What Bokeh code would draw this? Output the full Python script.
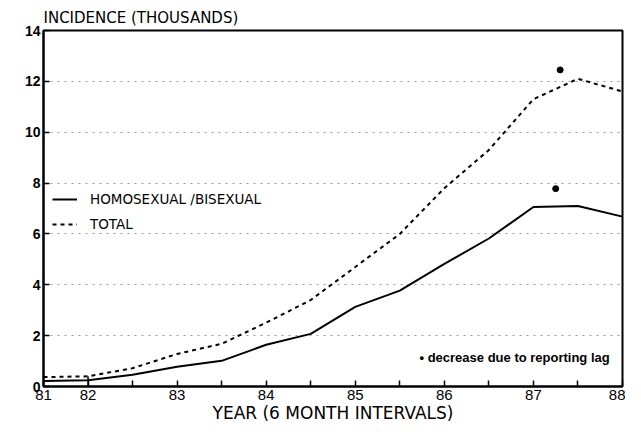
from bokeh.plotting import figure
from bokeh.models import FixedTicker, Legend, LegendItem, Label, Range1d
from bokeh.embed import file_html
from bokeh.resources import INLINE

# ---- data ----
period = ["81", "82", "82.5", "83", "83.5", "84", "84.5", "85", "85.5",
          "86", "86.5", "87", "87.5", "88"]
homo = [0.22, 0.25, 0.46, 0.78, 1.01, 1.64, 2.07, 3.13, 3.77, 4.82, 5.82, 7.06, 7.10, 6.68]
total = [0.37, 0.40, 0.72, 1.28, 1.68, 2.51, 3.40, 4.70, 6.00, 7.80, 9.30, 11.30, 12.10, 11.60]
lag_x = [11.6, 11.5]
lag_y = [12.45, 7.78]
y_ticks = [0, 2, 4, 6, 8, 10, 12, 14]

x = list(range(len(period)))
FONT = "Liberation Sans"
WIDE = "DejaVu Sans"

p = figure(width=625, height=425, output_backend="svg", toolbar_location=None,
           x_range=Range1d(0, len(period) - 1), y_range=Range1d(0, 14),
           min_border_left=43, min_border_right=3, min_border_top=30,
           min_border_bottom=38, title="INCIDENCE (THOUSANDS)")

p.title.text_font = WIDE
p.title.text_font_size = "15px"
p.title.text_font_style = "normal"
p.title.text_color = "black"
p.title.standoff = 8
p.title.offset = 0

p.outline_line_color = "black"
p.outline_line_width = 2
p.background_fill_color = "white"
p.border_fill_color = "white"

# axes
p.xaxis.ticker = FixedTicker(ticks=x)
p.xaxis.major_label_overrides = {i: (lab if "." not in lab else "") for i, lab in zip(x, period)}
p.yaxis.ticker = FixedTicker(ticks=y_ticks)
for ax in (p.xaxis, p.yaxis):
    ax.axis_line_color = "black"
    ax.axis_line_width = 2
    ax.major_tick_in = 6
    ax.major_tick_out = 0
    ax.major_tick_line_width = 1.5
    ax.minor_tick_line_color = None
    ax.major_label_text_font = FONT
    ax.major_label_text_color = "black"
p.xaxis.major_label_text_font_size = "15px"
p.yaxis.major_label_text_font_size = "14px"
p.yaxis.major_label_text_font_style = "bold"
p.yaxis.major_label_standoff = 3
p.xaxis.major_label_standoff = 3
p.xaxis.axis_label = "YEAR (6 MONTH INTERVALS)"
p.xaxis.axis_label_text_font = WIDE
p.xaxis.axis_label_text_font_size = "17px"
p.xaxis.axis_label_text_font_style = "normal"
p.xaxis.axis_label_text_color = "black"
p.xaxis.axis_label_standoff = 0

p.xgrid.visible = False
p.ygrid.ticker = FixedTicker(ticks=y_ticks[1:-1])
p.ygrid.grid_line_color = "#999999"
p.ygrid.grid_line_dash = "2 5"
p.ygrid.grid_line_width = 1

# data lines
r_h = p.line(x, homo, line_color="black", line_width=2)
r_t = p.line(x, total, line_color="black", line_width=2, line_dash="4 4")
# right edge of the 1981 box
p.segment(x0=[x[1]], y0=[0], x1=[x[1]], y1=[total[1]], line_color="black", line_width=1.5)
# reporting-lag markers
p.scatter(lag_x, lag_y, size=6, color="black")

legend = Legend(items=[LegendItem(label="HOMOSEXUAL /BISEXUAL", renderers=[r_h]),
                       LegendItem(label="TOTAL", renderers=[r_t])],
                location=(9, 152), border_line_color=None, background_fill_alpha=0,
                glyph_width=25, label_standoff=13, spacing=5, padding=5,
                label_text_font=WIDE, label_text_font_size="13.5px",
                label_text_color="black")
p.add_layout(legend)

# footnote
p.add_layout(Label(x=376, y=29, x_units="screen", y_units="screen",
                   text="• decrease due to reporting lag", text_font=FONT,
                   text_font_size="13px", text_font_style="bold",
                   text_baseline="middle", text_color="black"))

open("out.html", "w").write(file_html(p, INLINE))
